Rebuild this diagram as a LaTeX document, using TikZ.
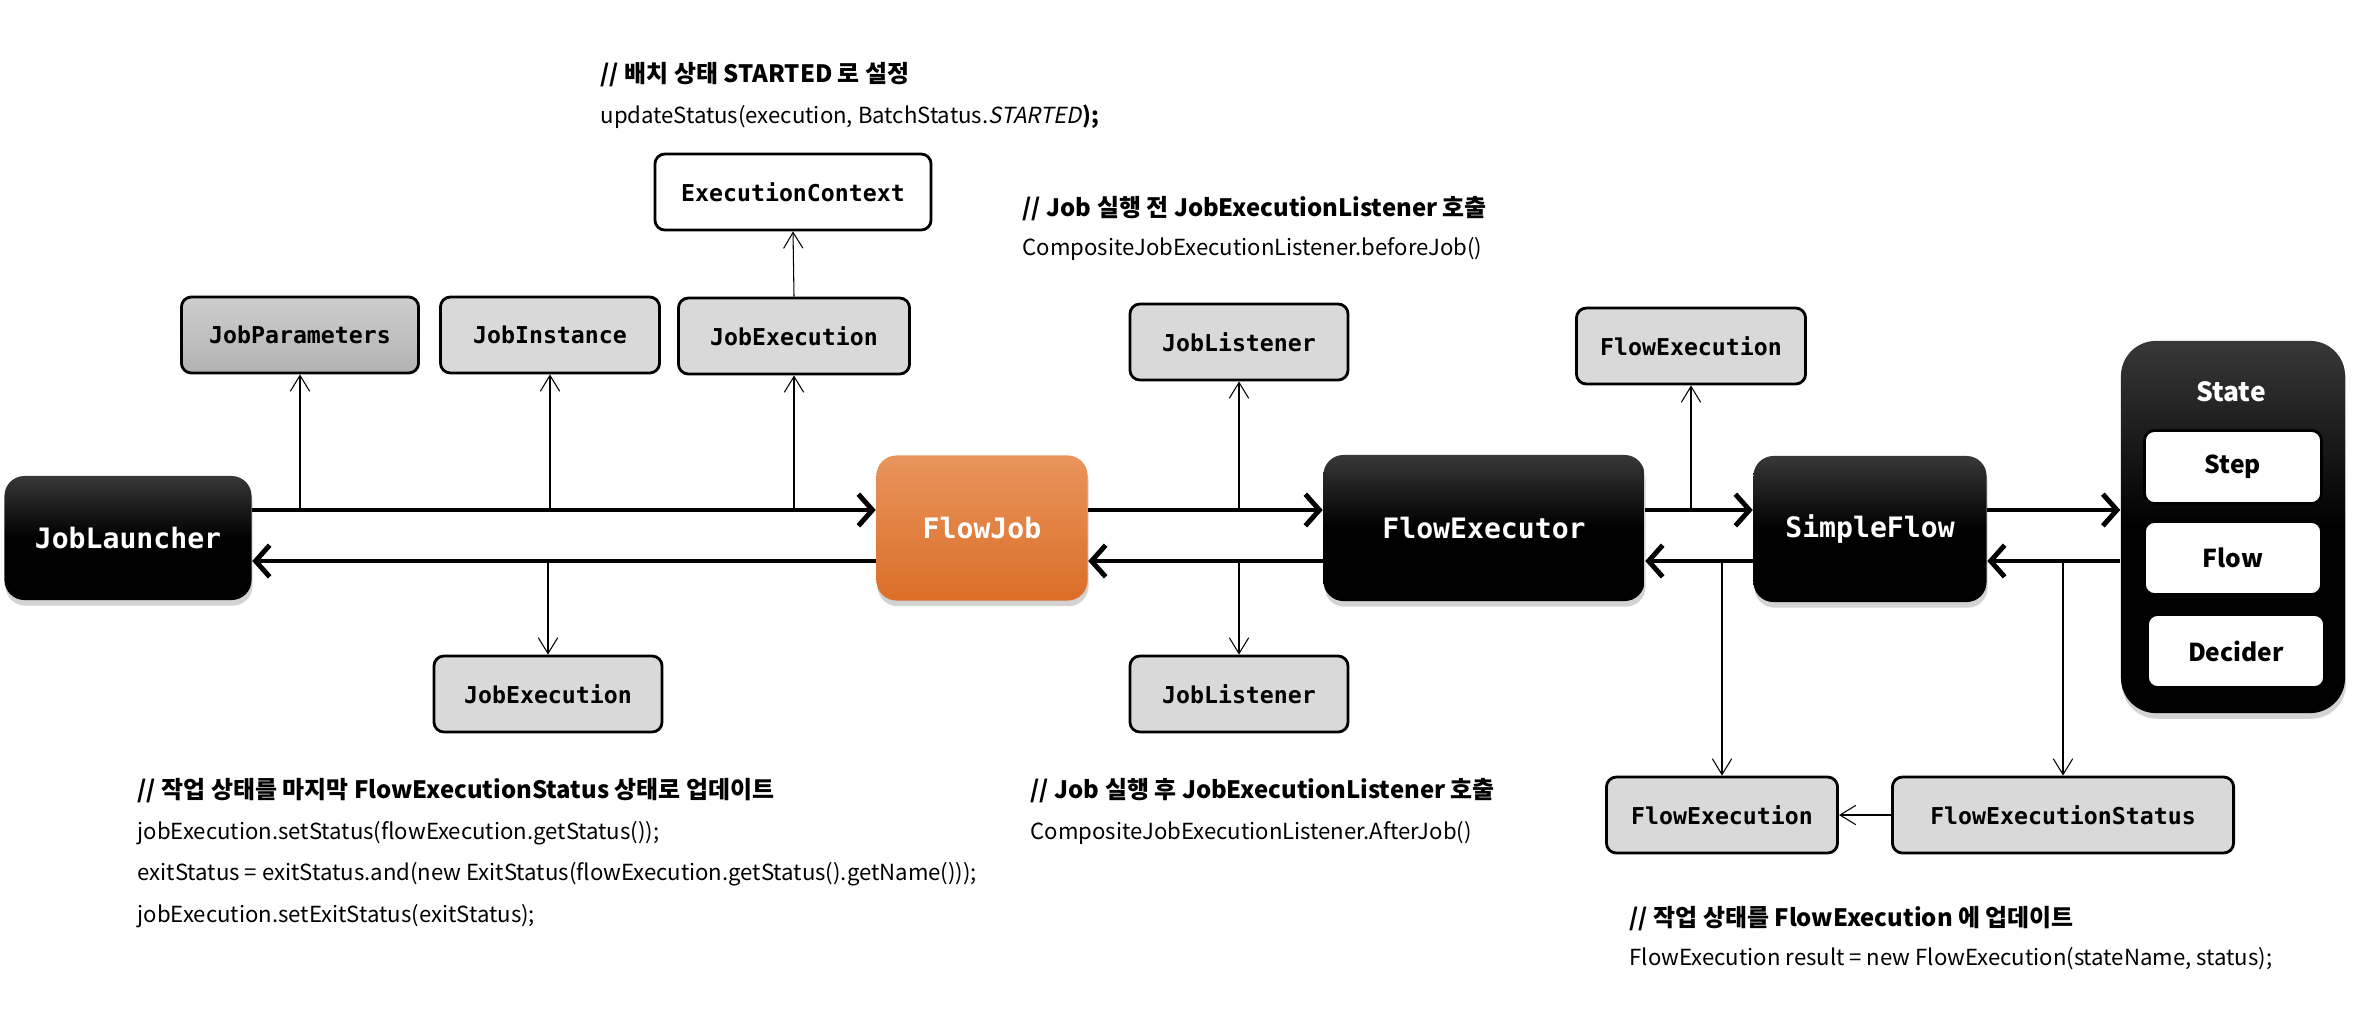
\documentclass[tikz,border=0pt]{standalone}
\usepackage{fontspec}
\setmainfont{Noto Sans CJK KR}[AutoFakeSlant=0.2]
\newfontfamily\codefont{DejaVu Sans Mono}
\usetikzlibrary{arrows.meta,shadows}

\definecolor{boxgray}{HTML}{D9D9D9}
\definecolor{jobtop}{HTML}{E8955C}
\definecolor{jobbot}{HTML}{DB6E28}

\tikzset{
  objbox/.style={draw, line width=0.8pt, rounded corners=0.1cm, fill=boxgray,
    inner sep=0pt, minimum height=0.76cm,
    font={\codefont\bfseries\fontsize{6.6}{8}\selectfont}},
  darkbox/.style={rounded corners=0.2cm, top color=black!78, bottom color=black,
    middle color=black, text=white, inner sep=0pt,
    drop shadow={shadow xshift=0.3pt, shadow yshift=-1.6pt, opacity=0.35},
    font={\codefont\bfseries\fontsize{8}{10}\selectfont}},
  statebox/.style={draw, line width=0.8pt, rounded corners=0.1cm, fill=white,
    inner sep=0pt, minimum width=1.77cm, minimum height=0.73cm,
    font={\bfseries\fontsize{7}{8}\selectfont}},
  flowline/.style={line width=1.4pt, -{Straight Barb[length=4pt,width=9pt]}},
  callline/.style={line width=0.3pt, -{Straight Barb[length=4.5pt,width=5.5pt]}},
  cmt/.style={anchor=west, inner sep=0pt, font={\bfseries\fontsize{6.8}{8}\selectfont}},
  code/.style={anchor=west, inner sep=0pt, font={\fontsize{6.3}{8}\selectfont}}
}

\begin{document}
\begin{tikzpicture}[x=0.01cm,y=-0.01cm]
  \useasboundingbox (0,0) rectangle (2354,1008);
  \coordinate (hi) at (0,510);
  \coordinate (lo) at (0,561);

  % main chain
  \node[darkbox, minimum width=2.47cm, minimum height=1.24cm] (launcher) at (128,538) {JobLauncher};
  \node[darkbox, top color=jobtop, bottom color=jobbot, middle color=jobtop!50!jobbot,
    minimum width=2.11cm, minimum height=1.45cm] (flowjob) at (982,528) {FlowJob};
  \node[darkbox, minimum width=3.21cm, minimum height=1.46cm] (executor) at (1484,528) {FlowExecutor};
  \node[darkbox, minimum width=2.33cm, minimum height=1.46cm] (simpleflow) at (1870,529) {SimpleFlow};
  \node[darkbox, rounded corners=0.35cm, minimum width=2.24cm, minimum height=3.72cm] (state) at (2233,527) {};
  \node[text=white, font={\bfseries\fontsize{7.5}{9}\selectfont}] (statelbl) at (2231,392) {State};
  \node[statebox] (stepst) at (2233,467) {Step};
  \node[statebox] (flowst) at (2233,558) {Flow};
  \node[statebox] (deciderst) at (2236,651) {Decider};

  % objects
  \node[objbox, minimum width=2.37cm, top color=boxgray!95!black, bottom color=boxgray!82!black] (params) at (300,335) {JobParameters};
  \node[objbox, minimum width=2.19cm] (instance) at (550,335) {JobInstance};
  \node[objbox, minimum width=2.31cm] (jobexec) at (794,336) {JobExecution};
  \node[objbox, minimum width=2.76cm, fill=white] (execctx) at (793,192) {ExecutionContext};
  \node[objbox, minimum width=2.28cm] (jobexecret) at (548,694) {JobExecution};
  \node[objbox, minimum width=2.18cm] (listenbefore) at (1239,342) {JobListener};
  \node[objbox, minimum width=2.18cm] (listenafter) at (1239,694) {JobListener};
  \node[objbox, minimum width=2.29cm] (flowexecup) at (1691,346) {FlowExecution};
  \node[objbox, minimum width=2.31cm] (flowexecdn) at (1722,815) {FlowExecution};
  \node[objbox, minimum width=3.41cm] (flowstatus) at (2063,815) {FlowExecutionStatus};

  % calls and returns
  \draw[flowline] (launcher.east |- hi) -- (flowjob.west |- hi);
  \draw[flowline] (flowjob.west |- lo) -- (launcher.east |- lo);
  \draw[flowline] (flowjob.east |- hi) -- (executor.west |- hi);
  \draw[flowline] (executor.west |- lo) -- (flowjob.east |- lo);
  \draw[flowline] (executor.east |- hi) -- (simpleflow.west |- hi);
  \draw[flowline] (simpleflow.west |- lo) -- (executor.east |- lo);
  \draw[flowline] (simpleflow.east |- hi) -- (state.west |- hi);
  \draw[flowline] (state.west |- lo) -- (simpleflow.east |- lo);

  \draw[callline] (params.south |- hi) -- (params.south);
  \draw[callline] (instance.south |- hi) -- (instance.south);
  \draw[callline] (jobexec.south |- hi) -- (jobexec.south);
  \draw[callline] (jobexec.north) -- (execctx.south);
  \draw[callline] (jobexecret.north |- lo) -- (jobexecret.north);
  \draw[callline] (listenbefore.south |- hi) -- (listenbefore.south);
  \draw[callline] (listenafter.north |- lo) -- (listenafter.north);
  \draw[callline] (flowexecup.south |- hi) -- (flowexecup.south);
  \draw[callline] (flowexecdn.north |- lo) -- (flowexecdn.north);
  \draw[callline] (flowstatus.north |- lo) -- (flowstatus.north);
  \draw[callline] (flowstatus.west) -- (flowexecdn.east);

  % notes
  \node[cmt] (startcmt) at (600,75) {// 배치 상태 STARTED 로 설정};
  \node[code] (startcode) at (600,117) {updateStatus(execution, BatchStatus.\textit{STARTED}\textbf{);}};
  \node[cmt] (beforecmt) at (1022,209) {// Job 실행 전 JobExecutionListener 호출};
  \node[code] (beforecode) at (1022,249) {CompositeJobExecutionListener.beforeJob()};
  \node[cmt] (endcmt) at (137,791) {// 작업 상태를 마지막 FlowExecutionStatus 상태로 업데이트};
  \node[code] (endcode1) at (137,833) {jobExecution.setStatus(flowExecution.getStatus());};
  \node[code] (endcode2) at (137,874) {exitStatus = exitStatus.and(new ExitStatus(flowExecution.getStatus().getName()));};
  \node[code] (endcode3) at (137,916) {jobExecution.setExitStatus(exitStatus);};
  \node[cmt] (aftercmt) at (1030,791) {// Job 실행 후 JobExecutionListener 호출};
  \node[code] (aftercode) at (1030,833) {CompositeJobExecutionListener.AfterJob()};
  \node[cmt] (resultcmt) at (1629,919) {// 작업 상태를 FlowExecution 에 업데이트};
  \node[code] (resultcode) at (1629,959) {FlowExecution result = new FlowExecution(stateName, status);};
\end{tikzpicture}
\end{document}
